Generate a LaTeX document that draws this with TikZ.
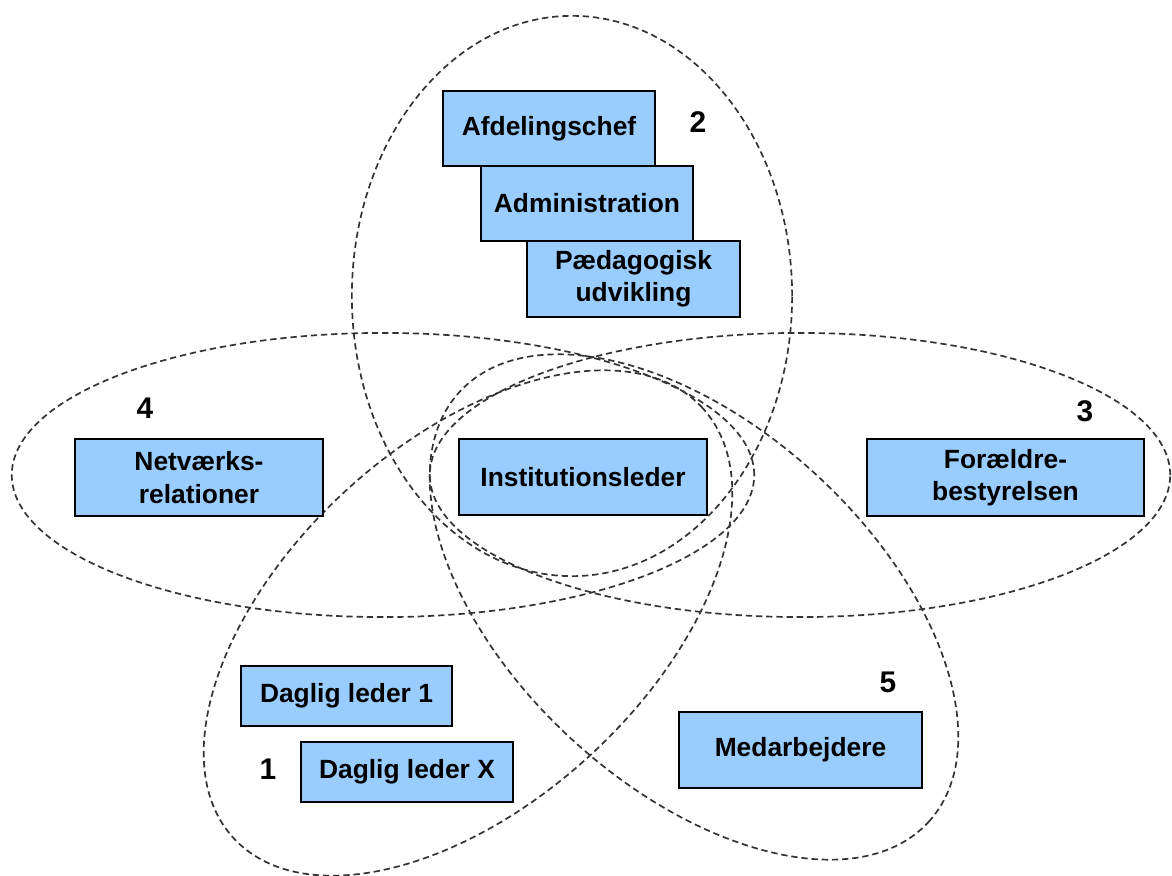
\documentclass[tikz,border=0pt]{standalone}
\usepackage{fontspec}
\setmainfont{Liberation Sans}
\definecolor{boxblue}{HTML}{99CCFF}
\tikzset{
  ring/.style={draw=black!80, line width=0.48pt, dash pattern=on 1.8pt off 1.1pt},
  box/.style={draw=black, line width=0.5pt, fill=boxblue, inner sep=0pt, align=center,
    font=\fontsize{7.5pt}{9.2pt}\selectfont\bfseries},
  num/.style={inner sep=0pt, font=\fontsize{8.5pt}{10pt}\selectfont\bfseries},
}
\begin{document}
\begin{tikzpicture}[x=0.01cm,y=-0.01cm]
\useasboundingbox[fill=white] (0,0) rectangle (1172,876);
% group ellipses
\draw[ring] (572,296) ellipse [x radius=2.2cm, y radius=2.8cm];
\draw[ring] (383,475) ellipse [x radius=3.71cm, y radius=1.42cm];
\draw[ring] (800,475) ellipse [x radius=3.70cm, y radius=1.42cm];
\draw[ring, rotate around={42.5:(468,623)}] (468,623) ellipse [x radius=3.18cm, y radius=1.8cm];
\draw[ring, rotate around={-42.5:(694,607)}] (694,607) ellipse [x radius=3.18cm, y radius=1.8cm];
% boxes
\node[box, minimum width=2.12cm, minimum height=0.75cm] (afd) at (549,128.5) {Afdelingschef};
\node[box, minimum width=2.12cm, minimum height=0.75cm] (adm) at (587,203.5) {Administration};
\node[box, minimum width=2.13cm, minimum height=0.76cm] (paed) at (633.5,279) {Pædagogisk\\udvikling};
\node[box, minimum width=2.48cm, minimum height=0.76cm] (inst) at (583,477) {Institutionsleder};
\node[box, minimum width=2.48cm, minimum height=0.77cm] (net) at (199,477.5) {Netværks-\\relationer};
\node[box, minimum width=2.77cm, minimum height=0.77cm] (for) at (1005.5,477.5) {Forældre-\\bestyrelsen};
\node[box, minimum width=2.11cm, minimum height=0.60cm] (dl1) at (346.5,696) {Daglig leder 1};
\node[box, minimum width=2.12cm, minimum height=0.60cm] (dlx) at (407,772) {Daglig leder X};
\node[box, minimum width=2.43cm, minimum height=0.76cm] (med) at (800.5,750) {Medarbejdere};
% numbers
\node[num] (n2) at (698,122) {2};
\node[num] (n4) at (145,408) {4};
\node[num] (n3) at (1085,411) {3};
\node[num] (n1) at (268,769) {1};
\node[num] (n5) at (888,682) {5};
\end{tikzpicture}
\end{document}
